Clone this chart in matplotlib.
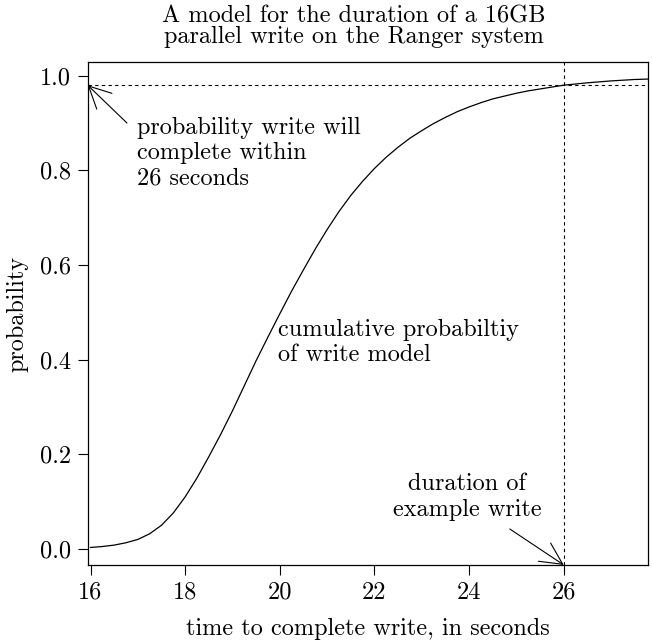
import numpy as np
import matplotlib
matplotlib.use('Agg')
import matplotlib.pyplot as plt

plt.rcParams['font.family'] = ['cmr10', 'DejaVu Serif']
plt.rcParams['axes.formatter.use_mathtext'] = True
plt.rcParams['font.size'] = 17.5

# cumulative probability of the write model
seconds = [16.0, 16.25, 16.5, 16.75, 17.0, 17.25, 17.5, 17.75, 18.0, 18.25,
           18.5, 18.75, 19.0, 19.25, 19.5, 19.75, 20.0, 20.25, 20.5, 20.75,
           21.0, 21.25, 21.5, 21.75, 22.0, 22.25, 22.5, 22.75, 23.0, 23.25,
           23.5, 23.75, 24.0, 24.25, 24.5, 24.75, 25.0, 25.25, 25.5, 25.75,
           26.0, 26.5, 27.0, 27.5, 27.8]
prob = [0.003, 0.005, 0.008, 0.013, 0.020, 0.032, 0.050, 0.076, 0.110, 0.150,
        0.195, 0.242, 0.292, 0.345, 0.398, 0.448, 0.497, 0.545, 0.590, 0.634,
        0.675, 0.713, 0.747, 0.777, 0.804, 0.828, 0.849, 0.868, 0.884, 0.899,
        0.912, 0.924, 0.934, 0.943, 0.951, 0.957, 0.963, 0.968, 0.972, 0.976,
        0.980, 0.985, 0.989, 0.992, 0.993]

example_time = 26
example_prob = 0.98

x_ticks = [16, 18, 20, 22, 24, 26]
y_ticks = [0.0, 0.2, 0.4, 0.6, 0.8, 1.0]

fig = plt.figure(figsize=(6.52, 6.41), dpi=100)
ax = fig.add_axes([0.1345, 0.1186, 0.8594, 0.7847])

ax.plot(seconds, prob, color='black', lw=0.9)
ax.axhline(example_prob, color='black', lw=0.8, dashes=(3, 3))
ax.axvline(example_time, color='black', lw=0.8, dashes=(3, 3))

xmin, xmax = 15.94, 27.78
ymin, ymax = -0.034, 1.029
ax.set_xlim(xmin, xmax)
ax.set_ylim(ymin, ymax)
ax.set_xticks(x_ticks)
ax.set_yticks(y_ticks)
ax.set_xticklabels([str(t) for t in x_ticks])
ax.set_yticklabels([f'{t:.1f}' for t in y_ticks])
ax.tick_params(direction='out', length=7, width=0.8, pad=5)
for s in ax.spines.values():
    s.set_linewidth(0.9)

ax.set_xlabel('time to complete write, in seconds', labelpad=10)
ax.set_ylabel('probability', labelpad=8)
fig.text(0.543, 0.958, 'A model for the duration of a 16GB\nparallel write on the Ranger system',
         ha='center', va='center', linespacing=0.89)

head = '->, head_length=0.9, head_width=0.45'
ax.annotate('', xy=(xmin, example_prob), xytext=(16.77, 0.90),
            arrowprops=dict(arrowstyle=head, lw=0.8, color='black',
                            shrinkA=0, shrinkB=0), annotation_clip=False)
ax.annotate('', xy=(example_time, ymin), xytext=(24.86, 0.042),
            arrowprops=dict(arrowstyle=head, lw=0.8, color='black',
                            shrinkA=0, shrinkB=0), annotation_clip=False)

ax.text(16.98, 0.836, 'probability write will\ncomplete within\n26 seconds',
        ha='left', va='center', linespacing=1.2)
ax.text(19.96, 0.436, 'cumulative probabiltiy\nof write model',
        ha='left', va='center', linespacing=1.2)
ax.text(23.96, 0.11, 'duration of\nexample write',
        ha='center', va='center', linespacing=1.2)

fig.savefig('out.png', dpi=100)
